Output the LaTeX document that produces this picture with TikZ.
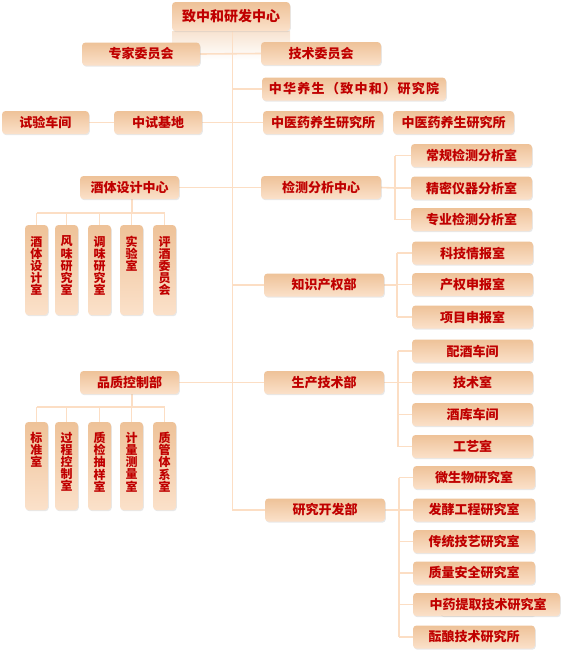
\documentclass[tikz,border=0pt]{standalone}
\usepackage{fontspec}
\newfontfamily\cjk{Noto Sans CJK SC}
\usetikzlibrary{shadows,backgrounds}
\definecolor{boxtop}{RGB}{238,194,152}
\definecolor{boxbot}{RGB}{251,225,202}
\definecolor{txtred}{RGB}{192,0,0}
\definecolor{linec}{RGB}{252,222,196}
\begin{document}
\begin{tikzpicture}[x=1pt,y=-1pt,
  box/.style={rounded corners=3.5pt, top color=boxtop, bottom color=boxbot, draw=none,
    inner sep=0pt, minimum height=23pt, minimum width=120pt,
    font=\cjk\bfseries\fontsize{13}{13}\selectfont, text=txtred,
    drop shadow={shadow xshift=0.8pt, shadow yshift=-1.2pt, fill=black!30, opacity=0.3}},
  vbox/.style={box, minimum width=23pt},
  vtext/.style={font=\cjk\bfseries\fontsize{12}{12.2}\selectfont, text=txtred,
    align=center, inner sep=0pt, anchor=north},
  conn/.style={draw=linec, line width=1.6pt}]
\useasboundingbox (0,0) rectangle (563,651);
% top
\node[box, minimum width=118pt, minimum height=29pt, font=\cjk\bfseries\fontsize{14}{14}\selectfont] (top) at (231,16.5) {致中和研发中心};
\node[box, minimum width=118pt] (zj) at (141,54) {专家委员会};
\node[box] (js) at (321,53.5) {技术委员会};
\node[box, minimum width=184pt, font=\cjk\bfseries\fontsize{13}{13}\selectfont\addfontfeature{LetterSpace=10}] (zh) at (354,89) {中华养生（致中和）研究院};
\node[box, minimum width=87pt] (sy) at (45.5,122.5) {试验车间};
\node[box, minimum width=88pt] (zs) at (158,122.5) {中试基地};
\node[box] (zy1) at (323,122.5) {中医药养生研究所};
\node[box, minimum width=121pt] (zy2) at (453.5,122.5) {中医药养生研究所};
% row 2
\node[box, minimum width=99pt] (jt) at (129.5,187.5) {酒体设计中心};
\node[box] (jc) at (321,187.5) {检测分析中心};
\node[box, minimum width=121pt] (cg) at (471.5,155.5) {常规检测分析室};
\node[box, minimum width=121pt] (jm) at (471.5,188) {精密仪器分析室};
\node[box, minimum width=121pt] (zyj) at (471.5,219.5) {专业检测分析室};
% vertical group 1
\node[vbox, minimum height=90pt] (v1) at (36.5,270) {};
\node[vbox, minimum height=90pt] (v2) at (66.5,270) {};
\node[vbox, minimum height=90pt] (v3) at (99.5,270) {};
\node[vbox, minimum height=90pt] (v4) at (131.5,270) {};
\node[vbox, minimum height=90pt] (v5) at (164.5,270) {};
\node[vtext] (t1) at ([yshift=-11pt]v1.north) {酒\\体\\设\\计\\室};
\node[vtext] (t2) at ([yshift=-11pt]v2.north) {风\\味\\研\\究\\室};
\node[vtext] (t3) at ([yshift=-11pt]v3.north) {调\\味\\研\\究\\室};
\node[vtext] (t4) at ([yshift=-11pt]v4.north) {实\\验\\室};
\node[vtext] (t5) at ([yshift=-11pt]v5.north) {评\\酒\\委\\员\\会};
% IP
\node[box] (zc) at (324,285) {知识产权部};
\node[box, minimum width=121pt] (kj) at (472.5,253) {科技情报室};
\node[box, minimum width=121pt] (cq) at (472.5,284.5) {产权申报室};
\node[box, minimum width=121pt] (xm) at (472.5,317) {项目申报室};
% production
\node[box, minimum width=99pt] (pz) at (129.5,382.5) {品质控制部};
\node[box] (sc) at (324,382.5) {生产技术部};
\node[box, minimum width=121pt] (pj) at (472.5,351) {配酒车间};
\node[box, minimum width=121pt] (jsh) at (472.5,382.5) {技术室};
\node[box, minimum width=121pt] (jk) at (472.5,414.5) {酒库车间};
\node[box, minimum width=121pt] (gy) at (472.5,446.5) {工艺室};
% vertical group 2
\node[vbox, minimum height=88pt] (w1) at (36.5,466) {};
\node[vbox, minimum height=88pt] (w2) at (66.5,466) {};
\node[vbox, minimum height=88pt] (w3) at (99.5,466) {};
\node[vbox, minimum height=88pt] (w4) at (131.5,466) {};
\node[vbox, minimum height=88pt] (w5) at (164.5,466) {};
\node[vtext] (s1) at ([yshift=-10pt]w1.north) {标\\准\\室};
\node[vtext] (s2) at ([yshift=-10pt]w2.north) {过\\程\\控\\制\\室};
\node[vtext] (s3) at ([yshift=-10pt]w3.north) {质\\检\\抽\\样\\室};
\node[vtext] (s4) at ([yshift=-10pt]w4.north) {计\\量\\测\\量\\室};
\node[vtext] (s5) at ([yshift=-10pt]w5.north) {质\\管\\体\\系\\室};
% R&D
\node[box] (yf) at (325,510) {研究开发部};
\node[box, minimum width=122pt] (ws) at (474,477.5) {微生物研究室};
\node[box, minimum width=122pt] (fx) at (474,510) {发酵工程研究室};
\node[box, minimum width=122pt] (ct) at (474,541.5) {传统技艺研究室};
\node[box, minimum width=122pt] (zl) at (474,573) {质量安全研究室};
\node[box, minimum width=122pt] (zyb) at (474,604.5) {};
\node[box, minimum width=120pt] (zyf) at (500,604.5) {};
\node[font=\cjk\bfseries\fontsize{13}{13}\selectfont, text=txtred, inner sep=0pt] (zyt) at (488,604.5) {中药提取技术研究室};
\node[box, minimum width=122pt] (yn) at (474,637) {酝酿技术研究所};
% connectors
\begin{pgfonlayer}{background}
\shade[top color=boxtop!45, bottom color=white] (172,31) rectangle (290,60);
\coordinate (vt) at (232.5,31);
\coordinate (vb) at (232.5,510);
\draw[conn] (vt) -- (vb) -- (yf.west);
\draw[conn] (zj.east) -- (js.west);
\draw[conn] (zh.west -| vt) -- (zh.west);
\draw[conn] (sy.east) -- (zs.west);
\draw[conn] (zs.east) -- (zy1.west);
\draw[conn] (jt.east) -- (jc.west);
\draw[conn] (zc.west -| vt) -- (zc.west);
\draw[conn] (pz.east) -- (sc.west);
% bracket 1
\coordinate (b1) at (395,188);
\draw[conn] (jc.east) -- (b1);
\draw[conn] (b1 |- cg.west) -- (b1 |- zyj.west);
\foreach \n in {cg,jm,zyj} \draw[conn] (b1 |- \n.west) -- (\n.west);
% bracket 2
\coordinate (b2) at (397,285);
\draw[conn] (zc.east) -- (b2);
\draw[conn] (b2 |- kj.west) -- (b2 |- xm.west);
\foreach \n in {kj,cq,xm} \draw[conn] (b2 |- \n.west) -- (\n.west);
% bracket 3
\coordinate (b3) at (398,382.5);
\draw[conn] (sc.east) -- (b3);
\draw[conn] (b3 |- pj.west) -- (b3 |- gy.west);
\foreach \n in {pj,jsh,jk,gy} \draw[conn] (b3 |- \n.west) -- (\n.west);
% bracket 4
\coordinate (b4) at (399,510);
\draw[conn] (yf.east) -- (b4);
\draw[conn] (b4 |- ws.west) -- (b4 |- yn.west);
\foreach \n in {ws,fx,ct,zl,zyb,yn} \draw[conn] (b4 |- \n.west) -- (\n.west);
% group 1
\coordinate (g1) at (132,213);
\draw[conn] (jt.south -| g1) -- (g1);
\draw[conn] (v1.north |- g1) -- (v5.north |- g1);
\foreach \n in {v1,v2,v3,v4,v5} \draw[conn] (\n.north |- g1) -- (\n.north);
% group 2
\coordinate (g2) at (132,407);
\draw[conn] (pz.south -| g2) -- (g2);
\draw[conn] (w1.north |- g2) -- (w5.north |- g2);
\foreach \n in {w1,w2,w3,w4,w5} \draw[conn] (\n.north |- g2) -- (\n.north);
\end{pgfonlayer}
\end{tikzpicture}
\end{document}
